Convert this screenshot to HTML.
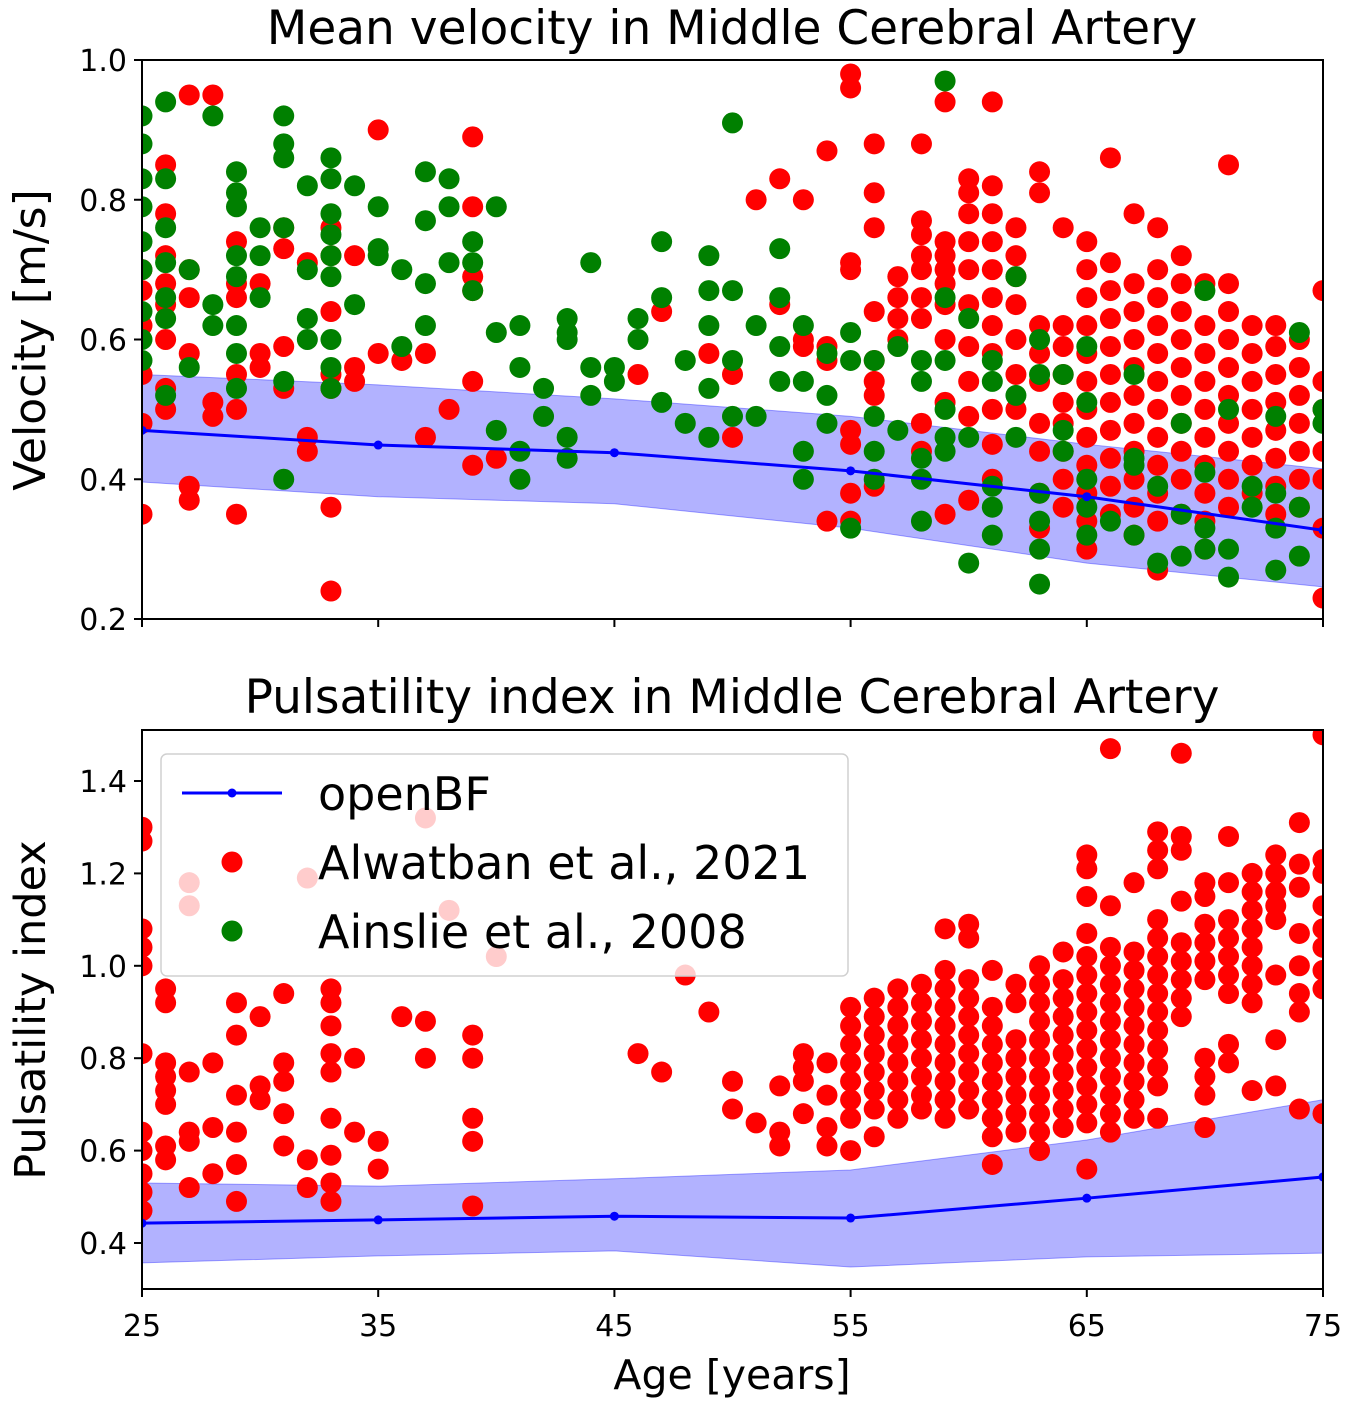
<!DOCTYPE html>
<html><head><meta charset="utf-8"><style>
body{margin:0;background:#fff}
svg{display:block;font-family:"DejaVu Sans","Liberation Sans",sans-serif}
</style></head><body>
<svg id="chart" width="1350" height="1405" viewBox="0 0 1350 1405">
<defs>
<clipPath id="c1"><rect x="142" y="60" width="1181" height="559"/></clipPath>
<clipPath id="c2"><rect x="142" y="730" width="1181" height="559"/></clipPath>
</defs>
<g id="topPanel" clip-path="url(#c1)"></g>
<g id="botPanel" clip-path="url(#c2)"></g>
<g id="axes"></g>
</svg>
<script>
const lineAges=[25,35,45,55,65,75];
const velMean=[0.47,0.449,0.438,0.412,0.375,0.327];
const velUpper=[0.55,0.535,0.515,0.49,0.45,0.415];
const velLower=[0.396,0.375,0.365,0.33,0.28,0.246];
const piMean=[0.443,0.45,0.458,0.454,0.497,0.543];
const piUpper=[0.53,0.523,0.539,0.558,0.623,0.71];
const piLower=[0.357,0.372,0.383,0.348,0.37,0.378];
const xTicks=[25,35,45,55,65,75];
const velTicks=[0.2,0.4,0.6,0.8,1.0];
const piTicks=[0.4,0.6,0.8,1.0,1.2,1.4];

const redTopAges=[25,26,27,28,29,30,31,32,33,34,35,36,37,38,39,40,46,47,49,50,51,52,53,54,55,56,57,58,59,60,61,62,63,64,65,66,67,68,69,70,71,72,73,74,75];
const redTopVals=[[.35,.48,.55,.62,.67,.70],[.85,.78,.72,.68,.65,.60,.53,.50],[.95,.70,.66,.58,.39,.37],[.95,.51,.49],[.74,.68,.66,.55,.50,.35],[.68,.58,.56],[.76,.73,.59,.53],[.71,.46,.44],[.76,.72,.64,.55,.53,.36,.24],[.72,.56,.54],[.90,.58],[.57],[.58,.46],[.50],[.89,.79,.69,.67,.54,.42],[.43],[.55],[.64],[.58],[.55,.46],[.80],[.83,.65],[.80,.60,.59],[.87,.59,.57,.34],[.98,.96,.71,.70,.47,.45,.38,.34],[.88,.81,.76,.64,.57,.54,.52,.39],[.69,.66,.63,.60],[.88,.77,.75,.72,.70,.66,.63,.48,.44],[.94,.74,.72,.70,.68,.65,.60,.51,.35],[.83,.81,.78,.74,.70,.65,.59,.54,.49,.37],[.94,.82,.78,.74,.70,.66,.62,.58,.50,.45,.40],[.76,.72,.69,.65,.60,.55,.50],[.84,.81,.62,.58,.54,.48,.44,.38,.33],[.76,.62,.59,.55,.51,.48,.44,.40,.36],[.74,.70,.66,.62,.58,.54,.50,.46,.42,.38,.34,.30],[.86,.71,.67,.63,.59,.55,.51,.47,.43,.39,.35],[.78,.68,.64,.60,.56,.52,.48,.44,.40,.36,.32],[.76,.70,.66,.62,.58,.54,.50,.46,.42,.38,.34,.27],[.72,.68,.64,.60,.56,.52,.48,.44,.40,.35],[.68,.62,.58,.54,.50,.46,.42,.38,.34,.30],[.85,.68,.64,.60,.56,.52,.48,.44,.40,.36],[.62,.58,.54,.50,.46,.42,.38],[.62,.59,.55,.51,.47,.43,.39,.35],[.60,.56,.52,.48,.44,.40,.36],[.67,.54,.50,.44,.40,.33,.23]];

const greenTopAges=[25,26,27,28,29,30,31,32,33,34,35,36,37,38,39,40,41,42,43,44,45,46,47,48,49,50,51,52,53,54,55,56,57,58,59,60,61,62,63,64,65,66,67,68,69,70,71,72,73,74,75];
const greenTopVals=[[.92,.88,.83,.79,.74,.70,.64,.60,.57],[.94,.83,.76,.71,.66,.63,.52],[.70,.56],[.92,.65,.62],[.84,.81,.79,.72,.69,.62,.58,.53],[.76,.72,.66],[.92,.88,.86,.76,.54,.40],[.82,.70,.63,.60],[.86,.83,.78,.75,.72,.69,.60,.56,.53],[.82,.65],[.79,.73,.72],[.70,.59],[.84,.77,.68,.62],[.83,.79,.71],[.74,.71,.67],[.79,.61,.47],[.62,.56,.44,.40],[.53,.49],[.63,.61,.60,.46,.43],[.71,.56,.52],[.56,.54],[.63,.60],[.74,.66,.51],[.57,.48],[.72,.67,.62,.53,.46],[.91,.67,.57,.49],[.62,.49],[.73,.66,.59,.54],[.62,.54,.44,.40],[.58,.52,.48],[.61,.57,.33],[.57,.49,.44,.40],[.59,.47],[.57,.54,.43,.40,.34],[.97,.66,.57,.50,.46,.44],[.63,.46,.28],[.57,.54,.39,.36,.32],[.69,.52,.46],[.60,.55,.38,.34,.30,.25],[.55,.47,.44],[.59,.51,.40,.36,.32],[.34],[.55,.43,.42,.32],[.39,.28],[.48,.35,.29],[.67,.41,.33,.30],[.50,.30,.26],[.39,.36],[.49,.38,.33,.27],[.61,.36,.29],[.50,.48]];

const redBotAges=[25,26,27,28,29,30,31,32,33,34,35,36,37,38,39,40,46,47,48,49,50,51,52,53,54,55,56,57,58,59,60,61,62,63,64,65,66,67,68,69,70,71,72,73,74,75];
const redBotVals=[[1.30,1.27,1.08,1.04,1.00,.81,.64,.60,.55,.51,.47],[.95,.92,.79,.76,.73,.70,.61,.58],[1.18,1.13,.77,.64,.62,.52],[.79,.65,.55],[.92,.85,.72,.64,.57,.49],[.89,.74,.71],[.94,.79,.75,.68,.61],[1.19,.58,.52],[.95,.92,.87,.81,.77,.67,.59,.53,.49],[.80,.64],[.62,.56],[.89],[1.32,.88,.80],[1.12],[.85,.80,.67,.62,.48],[1.02],[.81],[.77],[.98],[.90],[.75,.69],[.66],[.74,.64,.61],[.81,.78,.75,.68],[.79,.72,.65,.61],[.91,.87,.83,.79,.75,.71,.67,.60],[.93,.89,.85,.81,.77,.73,.69,.63],[.95,.91,.87,.83,.79,.75,.71,.67],[.96,.92,.88,.84,.80,.76,.72,.69],[1.08,.99,.95,.91,.87,.83,.79,.75,.71,.67],[1.09,1.06,.97,.93,.89,.85,.81,.77,.73,.69],[.99,.91,.87,.83,.79,.75,.71,.67,.63,.57],[.96,.92,.84,.80,.76,.72,.68,.64],[1.00,.96,.92,.88,.84,.80,.76,.72,.68,.64,.60],[1.03,.97,.93,.89,.85,.81,.77,.73,.69,.65],[1.24,1.21,1.15,1.07,1.02,.98,.94,.90,.86,.82,.78,.74,.70,.66,.56],[1.47,1.13,1.04,1.00,.96,.92,.88,.84,.80,.76,.72,.68,.64],[1.18,1.03,.99,.95,.91,.87,.83,.79,.75,.71,.67],[1.29,1.25,1.21,1.10,1.06,1.02,.98,.94,.90,.86,.82,.78,.74,.67],[1.46,1.28,1.25,1.14,1.05,1.01,.97,.93,.89],[1.18,1.15,1.09,1.05,1.01,.97,.80,.76,.72,.65],[1.28,1.18,1.10,1.06,1.02,.98,.94,.83,.79],[1.20,1.16,1.12,1.08,1.04,1.00,.96,.92,.73],[1.24,1.20,1.16,1.13,1.10,.98,.84,.74],[1.31,1.22,1.17,1.07,1.00,.94,.90,.69],[1.50,1.23,1.20,1.13,1.08,1.04,.99,.95,.68]];

const NS='http://www.w3.org/2000/svg';
const X0=142,X1=1323;
const xs=a=>X0+(a-25)/50*(X1-X0);
const yTop=v=>619-(v-0.2)/0.8*559;
const yBot=v=>1243-(v-0.4)*462;
function mk(tag,attrs,parent,txt){const e=document.createElementNS(NS,tag);for(const k in attrs)e.setAttribute(k,attrs[k]);if(txt!==undefined)e.textContent=txt;parent.appendChild(e);return e;}
const gTop=document.getElementById('topPanel'),gBot=document.getElementById('botPanel'),axes=document.getElementById('axes');

function band(g,up,lo,ys,name){
  let d='M'+lineAges.map((a,i)=>xs(a)+','+ys(up[i])).join('L');
  d+='L'+lineAges.slice().reverse().map((a,j)=>{const i=lineAges.length-1-j;return xs(a)+','+ys(lo[i]);}).join('L')+'Z';
  const p=mk('path',{d:d,fill:'#0000ff','fill-opacity':0.3,stroke:'#0000ff','stroke-opacity':0.35,'stroke-width':1},g);
  
  
}
function line(g,vals,ys,name){
  const p=mk('polyline',{points:lineAges.map((a,i)=>xs(a)+','+ys(vals[i])).join(' '),fill:'none',stroke:'#0000ff','stroke-width':3},g);
  
  
  lineAges.forEach((a,i)=>{const c=mk('circle',{cx:xs(a),cy:ys(vals[i]),r:4.5,fill:'#0000ff'},g);
    
    });
}
function scatter(g,ages,vals,ys,color,name){
  ages.forEach((a,i)=>vals[i].forEach(v=>{const c=mk('circle',{cx:xs(a),cy:ys(v),r:10.5,fill:color},g);
    
    }));
}
band(gTop,velUpper,velLower,yTop,'openbf-velocity-band');
scatter(gTop,redTopAges,redTopVals,yTop,'#ff0000','alwatban-velocity-point');
scatter(gTop,greenTopAges,greenTopVals,yTop,'#008000','ainslie-velocity-point');
line(gTop,velMean,yTop,'openbf-velocity-line');
band(gBot,piUpper,piLower,yBot,'openbf-pi-band');
scatter(gBot,redBotAges,redBotVals,yBot,'#ff0000','alwatban-pi-point');
line(gBot,piMean,yBot,'openbf-pi-line');

function frame(y0,y1,name){const r=mk('rect',{x:X0,y:y0,width:X1-X0,height:y1-y0,fill:'none',stroke:'#000','stroke-width':2},axes);
  
  }
frame(60,619,'velocity-axes-frame');
frame(730,1289,'pi-axes-frame');
velTicks.forEach(v=>{const y=yTop(v);mk('line',{x1:X0-8,x2:X0,y1:y,y2:y,stroke:'#000','stroke-width':2},axes);
  const t=mk('text',{x:X0-15,y:y+11,'text-anchor':'end','font-size':30},axes,v.toFixed(1));
  
  });
piTicks.forEach(v=>{const y=yBot(v);mk('line',{x1:X0-8,x2:X0,y1:y,y2:y,stroke:'#000','stroke-width':2},axes);
  const t=mk('text',{x:X0-15,y:y+11,'text-anchor':'end','font-size':30},axes,v.toFixed(1));
  
  });
xTicks.forEach(a=>{const x=xs(a);mk('line',{x1:x,x2:x,y1:619,y2:627,stroke:'#000','stroke-width':2},axes);
  mk('line',{x1:x,x2:x,y1:1289,y2:1297,stroke:'#000','stroke-width':2},axes);
  const t=mk('text',{x:x,y:1336,'text-anchor':'middle','font-size':30},axes,String(a));
  
  });
function txt(x,y,s,size,name,rot){const t=mk('text',{x:x,y:y,'text-anchor':'middle','font-size':size},axes,s);
  if(rot)t.setAttribute('transform','rotate(-90 '+x+' '+y+')');
  
  }
txt(732,44,'Mean velocity in Middle Cerebral Artery',47,'velocity-title');
txt(732,713,'Pulsatility index in Middle Cerebral Artery',47,'pi-title');
txt(732,1389,'Age [years]',41,'x-axis-title');
txt(45,340,'Velocity [m/s]',44,'velocity-y-axis-title',true);
txt(45,1010,'Pulsatility index',43,'pi-y-axis-title',true);
const lg=mk('g',{},axes);


mk('rect',{x:161,y:754,width:687,height:222,rx:6,fill:'#fff','fill-opacity':0.8,stroke:'#d0d0d0','stroke-width':1.5},lg);
mk('line',{x1:182,x2:282,y1:793,y2:793,stroke:'#0000ff','stroke-width':3},lg);
mk('circle',{cx:232,cy:793,r:4.5,fill:'#0000ff'},lg);
mk('circle',{cx:232,cy:862,r:10.5,fill:'#ff0000'},lg);
mk('circle',{cx:232,cy:931,r:10.5,fill:'#008000'},lg);
[['openBF',810,'legend-openbf'],['Alwatban et al., 2021',879,'legend-alwatban'],['Ainslie et al., 2008',948,'legend-ainslie']].forEach(e=>{
  const t=mk('text',{x:318,y:e[1],'font-size':46},lg,e[0]);
  
  });
</script>
</body></html>
